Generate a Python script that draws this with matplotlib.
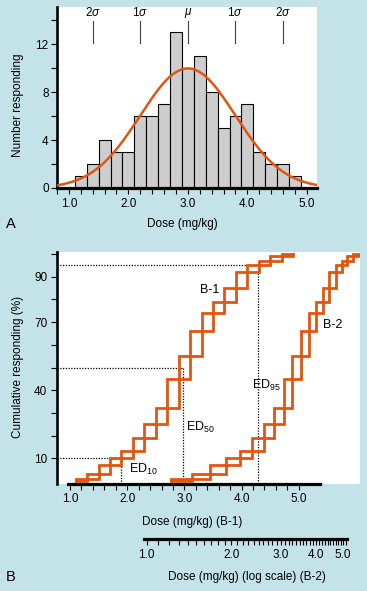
import numpy as np
import matplotlib
matplotlib.use("Agg")
import matplotlib.pyplot as plt
from matplotlib.ticker import FixedLocator, NullFormatter, FixedFormatter

plt.rcParams["font.family"] = ["Liberation Sans", "DejaVu Sans"]
plt.rcParams["mathtext.fontset"] = "custom"
plt.rcParams["mathtext.rm"] = "Liberation Sans"
plt.rcParams["mathtext.it"] = "Liberation Sans:italic"

BG = "#c4e3e8"
ORANGE = "#e0560f"
W, H = 367, 591

# --- panel A: histogram of individual doses ---
bin_centers = [1.2, 1.4, 1.6, 1.8, 2.0, 2.2, 2.4, 2.6, 2.8, 3.0,
               3.2, 3.4, 3.6, 3.8, 4.0, 4.2, 4.4, 4.6, 4.8]
counts = [1, 2, 4, 3, 3, 6, 6, 7, 13, 10, 11, 8, 5, 6, 7, 3, 2, 2, 1]
bin_width = 0.2
dose_mean = 3.0
dose_sd = 0.8
sigma_pos = [1.4, 2.2, 3.0, 3.8, 4.6]
sigma_labels = [r"2$\sigma$", r"1$\sigma$", r"$\mu$", r"1$\sigma$", r"2$\sigma$"]

# --- panel B: quantal dose-response (cumulative) ---
ed_levels = [10, 50, 95]
ed_doses = [1.9, 2.97, 4.28]
log_ticks_major = [1.0, 2.0, 3.0, 4.0, 5.0]


def px_rect(x0, y0, x1, y1):
    """Axes rect from pixel box (top-left origin)."""
    return [x0 / W, 1 - y1 / H, (x1 - x0) / W, (y1 - y0) / H]


def ftext(x, y, s, **kw):
    fig.text(x / W, 1 - y / H, s, ha="center", va="center", **kw)


def style_axis(ax):
    for side in ("top", "right"):
        ax.spines[side].set_visible(False)
    ax.spines["left"].set_linewidth(1.9)
    ax.spines["bottom"].set_linewidth(2.3)
    ax.tick_params(which="both", direction="out", length=4, width=0.8,
                   labelsize=8.5, colors="black")


fig = plt.figure(figsize=(W / 100, H / 100), dpi=100, facecolor=BG)

# ---------------- A ----------------
axA = fig.add_axes(px_rect(57, 7, 317, 188))
axA.bar(bin_centers, counts, width=bin_width, color="#cdcdcd",
        edgecolor="black", linewidth=0.8, zorder=2)
xs = np.linspace(0.8, 5.15, 300)
n_total = sum(counts)
ys = n_total * bin_width / (dose_sd * np.sqrt(2 * np.pi)) * \
    np.exp(-0.5 * ((xs - dose_mean) / dose_sd) ** 2)
axA.plot(xs, ys, color=ORANGE, lw=1.8, zorder=3)
for x, lab in zip(sigma_pos, sigma_labels):
    axA.plot([x, x], [12.1, 13.9], color="#444444", lw=0.8)
    axA.text(x, 14.6, lab, ha="center", va="center", fontsize=8.5)

axA.set_xlim(0.8, 5.17)
axA.set_ylim(0, 15.1)
style_axis(axA)
axA.xaxis.set_major_locator(FixedLocator([1, 2, 3, 4, 5]))
axA.xaxis.set_major_formatter(FixedFormatter(["1.0", "2.0", "3.0", "4.0", "5.0"]))
axA.xaxis.set_minor_locator(FixedLocator(np.arange(0.8, 5.01, 0.2)))
axA.yaxis.set_major_locator(FixedLocator([0, 4, 8, 12]))
axA.yaxis.set_minor_locator(FixedLocator([2, 6, 10, 14]))
axA.tick_params(axis="x", which="both", pad=3)
axA.tick_params(axis="y", which="both", pad=2)

ftext(182, 224, "Dose (mg/kg)", fontsize=8.5)
ftext(18, 105, "Number responding", fontsize=8.5, rotation=90)
ftext(11, 224, "A", fontsize=10.5)

# ---------------- B ----------------
axB = fig.add_axes(px_rect(57, 252, 360, 483.5))
axB.set_xlim(0.773, 6.07)
axB.set_ylim(-1.1, 100.9)
style_axis(axB)
axB.spines["bottom"].set_bounds(0.97, 5.37)

edges = np.append(np.array(bin_centers) - bin_width / 2, bin_centers[-1] + bin_width / 2)
cum = np.cumsum(counts) / n_total * 100

# two offset staircases: one steps at left bin edge, the other at the right edge
left_x = np.concatenate([[edges[0]], edges])
left_y = np.concatenate([[0], cum, [cum[-1]]])
right_x = edges
right_y = np.concatenate([[0], cum])

axB.plot(left_x, left_y, drawstyle="steps-post", color=ORANGE, lw=2.0,
         solid_joinstyle="miter", zorder=3)
axB.plot(right_x, right_y, drawstyle="steps-post", color=ORANGE, lw=2.0,
         solid_joinstyle="miter", zorder=3)

# B-2: same data on log dose
axB2 = axB.twiny()
axB2.set_xscale("log")
axB2.set_xlim(0.44, 4.98)
axB2.axis("off")
axB2.plot(left_x, left_y, drawstyle="steps-post", color=ORANGE, lw=2.0,
          solid_joinstyle="miter", clip_on=False)
axB2.plot(right_x, right_y, drawstyle="steps-post", color=ORANGE, lw=2.0,
          solid_joinstyle="miter", clip_on=False)

for lvl, d in zip(ed_levels, ed_doses):
    axB.plot([0.773, d], [lvl, lvl], color="black", lw=0.9,
             linestyle=(0, (1, 1.2)), zorder=2)
    axB.plot([d, d], [lvl, -1.1], color="black", lw=0.9,
             linestyle=(0, (1, 1.2)), zorder=2)

axB.text(2.03, 5.3, r"ED$_{10}$", ha="left", va="center", fontsize=9)
axB.text(3.03, 23.8, r"ED$_{50}$", ha="left", va="center", fontsize=9)
axB.text(4.18, 42.3, r"ED$_{95}$", ha="left", va="center", fontsize=9)
axB.text(3.45, 84.1, "B-1", ha="center", va="center", fontsize=9)
axB.text(5.6, 68.7, "B-2", ha="center", va="center", fontsize=9)

axB.xaxis.set_major_locator(FixedLocator([1, 2, 3, 4, 5]))
axB.xaxis.set_major_formatter(FixedFormatter(["1.0", "2.0", "3.0", "4.0", "5.0"]))
axB.xaxis.set_minor_locator(FixedLocator(np.arange(1.0, 5.01, 0.2)))
axB.yaxis.set_major_locator(FixedLocator([10, 40, 70, 90]))
axB.yaxis.set_minor_locator(FixedLocator([20, 30, 50, 60, 80, 100]))
axB.tick_params(axis="x", which="both", pad=3)
axB.tick_params(axis="y", which="both", pad=3)

ftext(192, 522, "Dose (mg/kg) (B-1)", fontsize=8.5)
ftext(18, 367, "Cumulative responding (%)", fontsize=8.5, rotation=90)

# log-scale dose axis for B-2
axL = fig.add_axes(px_rect(144, 538.9, 347.3, 539))
axL.patch.set_visible(False)
axL.set_xscale("log")
axL.set_xlim(0.978, 5.175)
for side in ("top", "right", "left"):
    axL.spines[side].set_visible(False)
axL.spines["bottom"].set_linewidth(2.3)
axL.set_yticks([])
axL.xaxis.set_major_locator(FixedLocator(log_ticks_major))
axL.xaxis.set_major_formatter(FixedFormatter(["%.1f" % v for v in log_ticks_major]))
axL.xaxis.set_minor_locator(FixedLocator(np.arange(1.0, 5.11, 0.1)))
axL.xaxis.set_minor_formatter(NullFormatter())
axL.tick_params(which="both", direction="out", length=4, width=0.8,
                labelsize=8.5, pad=3)

ftext(247, 577, "Dose (mg/kg) (log scale) (B-2)", fontsize=8.5)
ftext(11, 577, "B", fontsize=10.5)

fig.savefig("out.png", dpi=100, facecolor=BG)
